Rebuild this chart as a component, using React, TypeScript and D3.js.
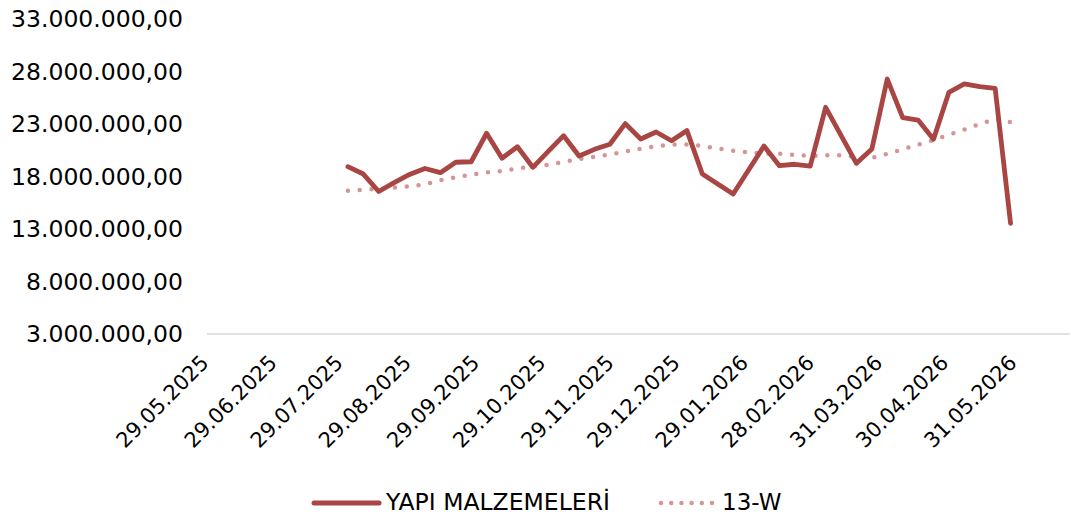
import React from "react";
import * as d3 from "d3";

const W = 1071;
const H = 518;

// weekly observation dates (Fridays)
const startDate = "01.08.2025";
const weekCount = 44;

const seriesName = "YAPI MALZEMELERİ";
const maName = "13-W";

// values in millions TRY
const values = [
  18.92, 18.22, 16.56, 17.41, 18.18, 18.75, 18.35, 19.34, 19.39, 22.1, 19.72,
  20.82, 18.86, 20.38, 21.87, 19.94, 20.57, 21.05, 23.02, 21.55, 22.22, 21.39,
  22.35, 18.22, 17.27, 16.32, 18.6, 20.89, 19.01, 19.15, 18.98, 24.57, 21.9,
  19.24, 20.6, 27.26, 23.58, 23.36, 21.53, 26.0, 26.79, 26.53, 26.38, 13.53,
];

const ma13 = [
  16.63, 16.72, 16.81, 16.92, 17.05, 17.24, 17.62, 17.91, 18.16, 18.38, 18.51,
  18.75, 18.95, 19.1, 19.37, 19.63, 19.85, 20.07, 20.36, 20.63, 20.86, 21.02,
  21.04, 20.89, 20.65, 20.44, 20.27, 20.16, 20.15, 20.03, 19.95, 20.0, 20.01,
  19.87, 19.75, 20.14, 20.57, 21.01, 21.46, 21.95, 22.44, 22.98, 23.43, 23.17,
];

const tickLabels = [
  "29.05.2025", "29.06.2025", "29.07.2025", "29.08.2025", "29.09.2025",
  "29.10.2025", "29.11.2025", "29.12.2025", "29.01.2026", "28.02.2026",
  "31.03.2026", "30.04.2026", "31.05.2026",
];

const yTicks = [3e6, 8e6, 13e6, 18e6, 23e6, 28e6, 33e6];

const axisStart = "29.05.2025";
const axisEnd = "25.06.2026";

const parse = d3.utcParse("%d.%m.%Y");

const fmtNum = (v: number) => {
  const s = d3.format(",.2f")(v); // 33,000,000.00
  return s.replace(/,/g, "#").replace(".", ",").replace(/#/g, ".");
};

export default function App() {
  const x = d3
    .scaleUtc()
    .domain([parse(axisStart)!, parse(axisEnd)!])
    .range([207, 1070]);
  const y = d3.scaleLinear().domain([3e6, 33e6]).range([334, 18.7]);

  const start = parse(startDate)!;
  const dates = d3.range(weekCount).map((i) => d3.utcDay.offset(start, i * 7));

  const mainData = dates.map((d, i) => ({ d, v: values[i] * 1e6 }));
  const maData = dates.map((d, i) => ({ d, v: ma13[i] * 1e6 }));

  const line = d3
    .line<{ d: Date; v: number }>()
    .x((p) => x(p.d))
    .y((p) => y(p.v));

  const font = "'DejaVu Sans', sans-serif";
  const mainColor = "#A94543";
  const maColor = "#D69595";

  return (
    <svg
      width={W}
      height={H}
      style={{ position: "absolute", left: 0, top: 0, background: "#fff" }}
    >
      {/* y labels */}
      {yTicks.map((t) => (
        <text
          key={t}
          x={183}
          y={y(t)}
          dy="0.36em"
          textAnchor="end"
          fontFamily={font}
          fontSize={23.5}
          fill="#000"
        >
          {fmtNum(t)}
        </text>
      ))}
      {/* x axis line */}
      <line
        x1={x.range()[0]}
        x2={x.range()[1]}
        y1={y(3e6)}
        y2={y(3e6)}
        stroke="#D9D9D9"
        strokeWidth={1.5}
      />
      {/* x labels */}
      {tickLabels.map((l) => {
        const tx = x(parse(l)!);
        return (
          <text
            key={l}
            transform={`translate(${tx + 3},364) rotate(-45)`}
            textAnchor="end"
            fontFamily={font}
            fontSize={21}
            fill="#000"
          >
            {l}
          </text>
        );
      })}
      {/* moving average */}
      <path
        d={line(maData) || ""}
        fill="none"
        stroke={maColor}
        strokeWidth={4.5}
        strokeLinecap="round"
        strokeDasharray="0 11.8"
      />
      {/* main series */}
      <path
        d={line(mainData) || ""}
        fill="none"
        stroke={mainColor}
        strokeWidth={4.8}
        strokeLinejoin="round"
        strokeLinecap="round"
      />
      {/* legend */}
      <line
        x1={314}
        x2={379}
        y1={503}
        y2={503}
        stroke={mainColor}
        strokeWidth={5}
        strokeLinecap="round"
      />
      <text x={386} y={510} fontFamily={font} fontSize={23.5} fill="#000">
        {seriesName}
      </text>
      <line
        x1={661}
        x2={712}
        y1={503}
        y2={503}
        stroke={maColor}
        strokeWidth={4.5}
        strokeLinecap="round"
        strokeDasharray="0 10.2"
      />
      <text x={722} y={510} fontFamily={font} fontSize={23} fill="#000">
        {maName}
      </text>
    </svg>
  );
}
